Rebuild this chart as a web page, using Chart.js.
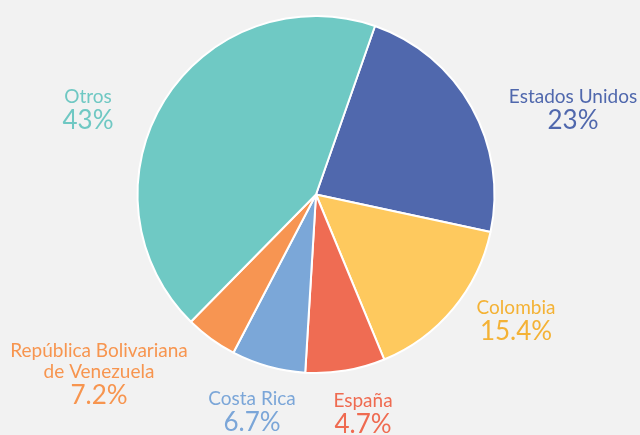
<!DOCTYPE html>
<html>
<head>
<meta charset="utf-8">
<script src="https://cdn.jsdelivr.net/npm/chart.js@4.4.1/dist/chart.umd.min.js"></script>
<style>
  html, body { margin: 0; padding: 0; background: #f2f2f2; }
  #c { display: block; }
</style>
</head>
<body>
<canvas id="c" width="640" height="435"></canvas>
<script>
// Datos del grafico: tamaño de cada porcion y texto que se lee junto a ella
const paises = ["Estados Unidos", "Colombia", "España", "Costa Rica", "República Bolivariana|de Venezuela", "Otros"];
const valores = [23, 15.4, 7.2, 6.7, 4.7, 43];
const valoresTexto = ["23%", "15.4%", "4.7%", "6.7%", "7.2%", "43%"];
const colores = ["#5068ad", "#fec95e", "#ef6c53", "#7ba7d8", "#f79552", "#6fc9c4"];
const coloresTexto = ["#5068ad", "#f4b235", "#ef6b51", "#7ba6d8", "#f7954f", "#6fc8c3"];

// posicion de cada etiqueta (centro x, linea base del primer renglon)
const posEtiquetas = [[573, 103], [516, 314], [363, 407], [252, 405], [99, 357], [88, 103]];

const etiquetasPlugin = {
  id: "etiquetas",
  afterDraw(chart) {
    const ctx = chart.ctx;
    ctx.save();
    ctx.textAlign = "center";
    ctx.textBaseline = "alphabetic";
    paises.forEach((p, i) => {
      const [x, y0] = posEtiquetas[i];
      const lineas = p.split("|");
      ctx.fillStyle = coloresTexto[i];
      ctx.font = "400 19px Lato";
      let y = y0;
      lineas.forEach((l, k) => {
        ctx.fillText(l, x, y);
        if (k < lineas.length - 1) y += 21;
      });
      ctx.font = "400 26px Lato";
      ctx.fillText(valoresTexto[i], x, y + 26);
    });
    ctx.restore();
  }
};

new Chart(document.getElementById("c"), {
  type: "pie",
  data: {
    labels: paises.map(p => p.replace("|", " ")),
    datasets: [{
      data: valores,
      backgroundColor: colores,
      borderColor: "#ffffff",
      borderWidth: 2,
    }],
  },
  options: {
    responsive: false,
    animation: false,
    devicePixelRatio: 1,
    rotation: 19.3,
    layout: { padding: { top: 15, bottom: 61, left: 0, right: 8 } },
    plugins: {
      legend: { display: false },
      tooltip: { enabled: false },
    },
  },
  plugins: [etiquetasPlugin],
});
</script>
</body>
</html>
